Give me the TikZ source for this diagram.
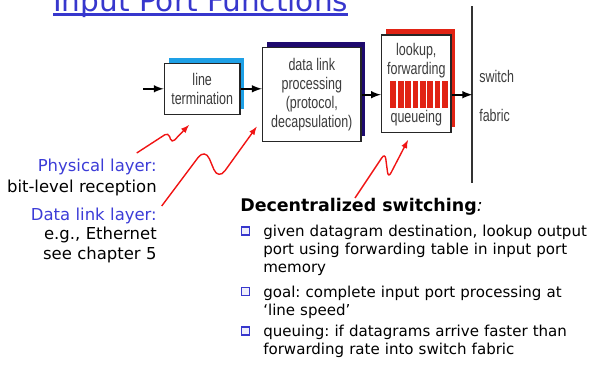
\documentclass[tikz,border=0pt]{standalone}
\usepackage{fontspec}
\setmainfont{DejaVu Sans}
\newfontfamily\boxfont[FakeStretch=0.74]{Liberation Sans}
\usepackage{xcolor}
\usepackage{tikz}
\usetikzlibrary{shadows}
\frenchspacing

\definecolor{titleblue}{RGB}{55,55,205}
\definecolor{labelblue}{RGB}{60,60,215}
\definecolor{boxgray}{RGB}{60,60,60}
\definecolor{linecyan}{RGB}{30,160,230}
\definecolor{linknavy}{RGB}{30,10,110}
\definecolor{lookred}{RGB}{225,35,20}
\definecolor{notered}{RGB}{240,20,20}

\tikzset{
  stage/.style={draw=black!85, line width=1.1pt, fill=white, inner sep=0pt, align=center,
    font=\boxfont\fontsize{12}{13.5}\selectfont, text=boxgray,
    drop shadow={shadow xshift=0.11cm, shadow yshift=0.14cm, fill=#1, opacity=1}},
  stagetext/.style={anchor=base, inner sep=0pt, align=center, text=boxgray,
    font=\boxfont\fontsize{12}{14.2}\selectfont},
  fabriclabel/.style={anchor=west, inner sep=0pt, text=boxgray,
    font=\boxfont\fontsize{12}{13.5}\selectfont},
  flow/.style={line width=1.4pt, -latex},
  note/.style={draw=notered, line width=1pt, rounded corners=#1, -latex},
  sidelabel/.style={anchor=base east, inner sep=0pt, text width=4cm, align=right},
  bodytext/.style={anchor=base west, inner sep=0pt, text width=9.5cm, align=left,
    font=\fontsize{10.7}{12.8}\selectfont},
  bulletbox/.style={draw=titleblue, line width=1.1pt, fill=titleblue!8, minimum size=0.2cm, inner sep=0pt}
}

\begin{document}
\begin{tikzpicture}[x=0.025cm, y=-0.025cm]
  \path[use as bounding box, clip] (0,0) rectangle (598,364);

  \node[anchor=base west, inner sep=0pt, text=titleblue, font=\fontsize{21}{24}\selectfont] (title) at (53,11) {Input Port Functions};
  \draw[titleblue, line width=1.8pt] ([yshift=-0.09cm]title.base west) -- ([yshift=-0.09cm]title.base east);

  \node[stage=linecyan, minimum width=1.89cm, minimum height=1.275cm] (lineterm) at (202.2,88.8) {line\\termination};
  \node[stage=linknavy, minimum width=2.46cm, minimum height=2.35cm] (dlink) at (311.8,94.7) {data link\\processing\\(protocol,\\decapsulation)};
  \node[stage=lookred, minimum width=1.73cm, minimum height=2.43cm] (lookup) at (416.3,83.7) {};
  \node[stagetext, text width=1.7cm] (looktxt) at (416.3,55) {lookup,\\forwarding};
  \node[stagetext] (queuetxt) at (416.3,122.7) {queueing};
  \fill[lookred] (390,81) rectangle (448.3,107.7);
  \foreach \i in {1,...,7}
    \draw[white, line width=1.2pt] ({390+7.29*\i},81) -- ({390+7.29*\i},107.7);

  \coordinate (fabtop) at (472.3,6);
  \coordinate (fabbot) at (472.3,183);
  \draw[black!80, line width=1.2pt] (fabtop) -- (fabbot);
  \node[fabriclabel] (sw) at (479,76) {switch};
  \node[fabriclabel] (fab) at (479,115) {fabric};

  \coordinate (src) at (143,88.8);
  \draw[flow] (src) -- (lineterm.west);
  \draw[flow] (lineterm.east) -- (lineterm.east -| dlink.west);
  \draw[flow] (dlink.east) -- (dlink.east -| lookup.west);
  \draw[flow] (lookup.east |- dlink.east) -- (dlink.east -| fabtop);

  \node[sidelabel, font=\fontsize{11.7}{14.9}\selectfont] (phys) at (157,171.7) {\textcolor{labelblue}{Physical layer:}\\bit-level reception};
  \node[sidelabel, font=\fontsize{11.7}{14.2}\selectfont] (dll) at (157,220) {\textcolor{labelblue}{Data link layer:}\\e.g., Ethernet\\see chapter 5};

  \coordinate (p1s) at (136.7,153);
  \coordinate (p1a) at (168.3,132.5);
  \coordinate (p1b) at (171.7,143);
  \coordinate (p1t) at (189,125);
  \draw[note=3pt] (p1s) -- (p1a) -- (p1b) -- (p1t);
  \coordinate (p2s) at (161.7,206);
  \coordinate (p2a) at (205,148.3);
  \coordinate (p2b) at (218.3,180);
  \coordinate (p2t) at (256.7,126.7);
  \draw[note=8pt] (p2s) -- (p2a) -- (p2b) -- (p2t);
  \coordinate (p3s) at (355,198);
  \coordinate (p3a) at (385,153);
  \coordinate (p3b) at (388.3,178);
  \coordinate (p3t) at (408,140);
  \draw[note=4pt] (p3s) -- (p3a) -- (p3b) -- (p3t);

  \node[anchor=base west, inner sep=0pt, font=\bfseries\fontsize{12.4}{14}\selectfont] (decent) at (240,211) {Decentralized switching{\mdseries\itshape :}};
  \node[bulletbox] (b1) at (245.5,231.2) {};
  \node[bodytext] (given) at (263,236.7) {given datagram destination, lookup output\\port using forwarding table in input port\\memory};
  \node[bulletbox] (b2) at (245.5,291.5) {};
  \node[bodytext] (goal) at (263,297) {goal: complete input port processing at\\`line speed'};
  \node[bulletbox] (b3) at (245.5,331.2) {};
  \node[bodytext] (queuing) at (263,336.7) {queuing: if datagrams arrive faster than\\forwarding rate into switch fabric};
\end{tikzpicture}
\end{document}
